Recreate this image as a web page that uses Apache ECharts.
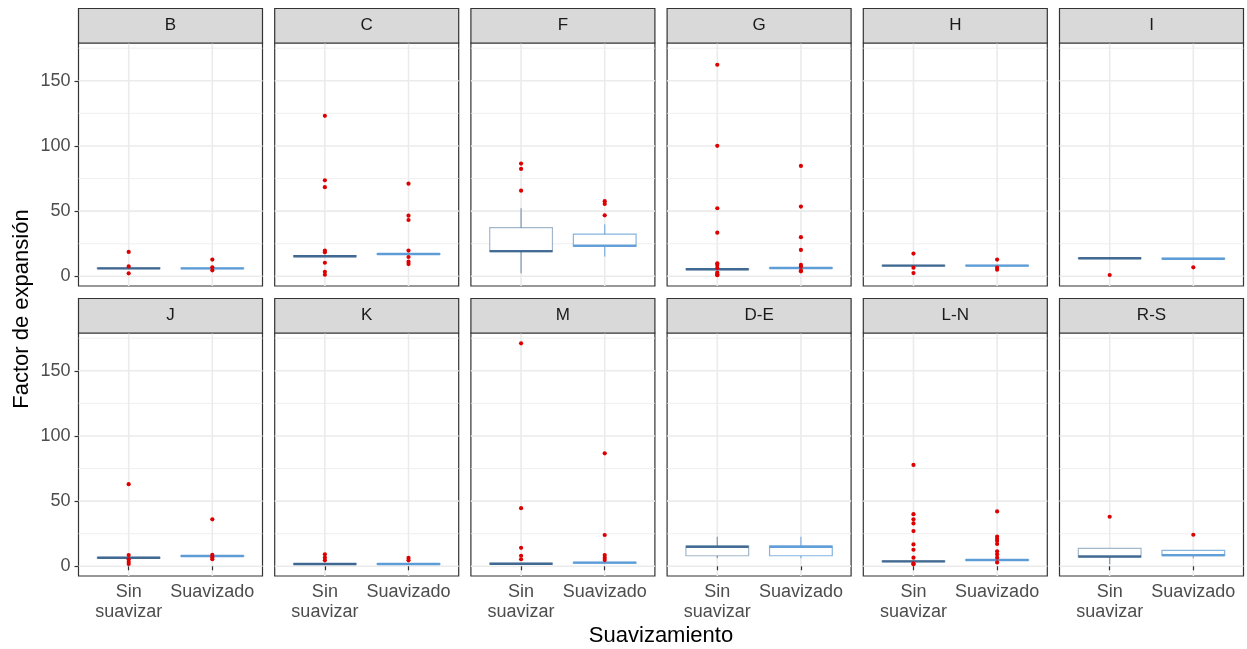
<!DOCTYPE html>
<html>
<head>
<meta charset="utf-8">
<script src="https://cdn.jsdelivr.net/npm/echarts@6/dist/echarts.min.js"></script>
<style>html,body{margin:0;padding:0;background:#fff}#c{width:1247px;height:649px}</style>
</head>
<body>
<div id="c"></div>
<script>
// ---- data ----
const panels = ['B','C','F','G','H','I','J','K','M','D-E','L-N','R-S'];
const groups = ['Sin\nsuavizar','Suavizado'];
const yTicks = [0,50,100,150];
const gridMajor = [0,50,100,150];
const gridMinor = [25,75,125,175];
// [min, Q1, median, Q3, max]
const sinBox = [
  [5.6,5.9,6.1,6.4,6.8],
  [14.8,15.1,15.4,15.8,16.2],
  [2.3,18.9,19.3,37.3,52.2],
  [4.9,5.1,5.4,5.7,6.0],
  [7.8,8.0,8.2,8.4,8.6],
  [13.4,13.6,13.8,14.0,14.2],
  [6.1,6.3,6.6,6.9,7.1],
  [1.3,1.5,1.8,2.1,2.3],
  [1.5,1.7,2.0,2.3,2.5],
  [6.1,8.1,15.0,15.5,22.7],
  [3.3,3.5,3.8,4.1,4.3],
  [1.6,7.2,7.5,13.8,13.8]
];
const suaBox = [
  [5.7,5.9,6.1,6.3,6.6],
  [16.4,16.8,17.1,17.5,17.9],
  [15.1,23.0,23.5,32.3,39.9],
  [6.0,6.2,6.4,6.7,7.0],
  [7.8,8.0,8.2,8.4,8.6],
  [13.1,13.3,13.5,13.7,13.9],
  [7.4,7.6,7.9,8.2,8.4],
  [1.3,1.5,1.8,2.1,2.3],
  [2.3,2.5,2.8,3.1,3.3],
  [6.1,8.1,15.0,15.5,22.7],
  [4.3,4.5,4.8,5.1,5.3],
  [6.1,8.1,8.6,12.2,12.2]
];
const sinOut = [
  [18.7,7.6,2.3],
  [123.1,73.7,68.4,19.7,18.4,10.4,3.5,1.2],
  [86.5,82.4,65.7],
  [162.3,100.1,52.2,33.5,10.0,8.7,6.4,2.8,1.5,0.8],
  [17.4,6.6,2.5],
  [1.0],
  [63.0,8.6,5.4,3.5,1.8],
  [9.2,6.6,4.6],
  [171.1,44.6,14.2,8.1,5.4],
  [],
  [77.8,40.0,36.0,32.9,27.0,16.8,12.7,6.6,2.3,1.5],
  [38.0]
];
const suaOut = [
  [12.8,6.9,4.6],
  [71.1,46.5,43.2,19.7,14.8,11.2,9.4],
  [57.6,55.5,46.8],
  [84.7,53.5,30.0,20.2,8.7,7.4,4.3,3.8],
  [12.8,6.6,5.1],
  [6.9],
  [36.0,8.8,7.0,5.4],
  [6.4,4.6],
  [86.7,24.0,8.6,6.6,4.8],
  [],
  [42.1,22.7,20.9,19.4,17.1,11.5,9.2,6.6,3.0],
  [24.2]
];

// ---- styles / layout ----
const FONT = '"Liberation Sans", Arial, sans-serif';
const lineCol = ['rgba(52,95,140,0.9)', 'rgba(91,155,213,0.95)'];
const boxCol = ['rgba(52,95,140,0.45)', 'rgba(91,155,213,0.75)'];
const whiskCol = ['rgba(52,95,140,0.55)', 'rgba(91,155,213,0.7)'];
const HALF_BOX = 0.375;
const PANEL_W = 184, PANEL_H = 243, STEP = 196.2, LEFT0 = 78.5;
const ROW_TOP = [43, 333], STRIP_H = 34.5;

const grids = [], xAxes = [], yAxes = [], series = [], graphics = [];

panels.forEach((name, i) => {
  const r = Math.floor(i / 6), c = i % 6;
  const left = LEFT0 + c * STEP, top = ROW_TOP[r];
  grids.push({left, top, width: PANEL_W, height: PANEL_H, show: true,
    backgroundColor: '#fff', borderColor: '#333333', borderWidth: 1.2});
  xAxes.push({gridIndex: i, type: 'value', min: 0.4, max: 2.6,
    splitLine: {show: false}, axisLine: {show: false},
    axisTick: {show: r === 1, customValues: [1, 2], length: 4, lineStyle: {color: '#333', width: 1.2}},
    axisLabel: {show: r === 1, customValues: [1, 2], margin: 6, color: '#4d4d4d',
      fontSize: 18, lineHeight: 20, fontFamily: FONT,
      formatter: v => Math.abs(v - 1) < 1e-6 ? groups[0] : (Math.abs(v - 2) < 1e-6 ? groups[1] : '')}
  });
  yAxes.push({gridIndex: i, type: 'value', min: -7.45, max: 179,
    splitLine: {show: false}, axisLine: {show: false},
    axisTick: {show: c === 0, customValues: yTicks, length: 4, lineStyle: {color: '#333', width: 1.2}},
    axisLabel: {show: c === 0, customValues: yTicks, margin: 8, color: '#4d4d4d', fontSize: 18, fontFamily: FONT}
  });

  // grid lines
  const gl = gridMajor.map(v => ['h', v, 1.6]).concat(gridMinor.map(v => ['h', v, 0.8]))
    .concat([['v', 1, 1.6], ['v', 2, 1.6]]);
  series.push({
    type: 'custom', xAxisIndex: i, yAxisIndex: i, z: 0, silent: true,
    data: gl.map(d => ({value: [d[0] === 'v' ? d[1] : 1, d[0] === 'h' ? d[1] : 0]})),
    renderItem: (params, api) => {
      const d = gl[params.dataIndex];
      const cs = params.coordSys;
      let shape;
      if (d[0] === 'h') {
        const y = api.coord([1, d[1]])[1];
        shape = {x1: cs.x, y1: y, x2: cs.x + cs.width, y2: y};
      } else {
        const x = api.coord([d[1], 0])[0];
        shape = {x1: x, y1: cs.y, x2: x, y2: cs.y + cs.height};
      }
      return {type: 'line', shape, style: {stroke: '#ebebeb', lineWidth: d[2]}};
    }
  });

  // boxplots (ggplot style: no whisker caps, thick median)
  const boxData = [[1].concat(sinBox[i]), [2].concat(suaBox[i])];
  series.push({
    type: 'custom', xAxisIndex: i, yAxisIndex: i, z: 2, silent: true,
    data: boxData,
    renderItem: (params, api) => {
      const k = params.dataIndex;
      const x = api.value(0), mn = api.value(1), q1 = api.value(2), md = api.value(3),
            q3 = api.value(4), mx = api.value(5);
      const a = api.coord([x - HALF_BOX, q3]), b = api.coord([x + HALF_BOX, q1]);
      const cx = api.coord([x, 0])[0];
      const yMin = api.coord([x, mn])[1], yMax = api.coord([x, mx])[1];
      const m1 = api.coord([x - HALF_BOX, md]), m2 = api.coord([x + HALF_BOX, md]);
      return {type: 'group', children: [
        {type: 'line', shape: {x1: cx, y1: a[1], x2: cx, y2: yMax}, style: {stroke: whiskCol[k], lineWidth: 1.3}},
        {type: 'line', shape: {x1: cx, y1: b[1], x2: cx, y2: yMin}, style: {stroke: whiskCol[k], lineWidth: 1.3}},
        {type: 'rect', shape: {x: a[0], y: a[1], width: b[0] - a[0], height: b[1] - a[1]},
          style: {fill: '#fff', stroke: boxCol[k], lineWidth: 1.2}},
        {type: 'line', shape: {x1: m1[0], y1: m1[1], x2: m2[0], y2: m2[1]},
          style: {stroke: lineCol[k], lineWidth: 2.4}}
      ]};
    }
  });

  // outliers
  series.push({
    type: 'scatter', xAxisIndex: i, yAxisIndex: i, z: 4, symbolSize: 4.2,
    itemStyle: {color: '#dd0000', opacity: 1},
    data: sinOut[i].map(v => [1, v]).concat(suaOut[i].map(v => [2, v]))
  });

  // strip
  graphics.push({type: 'rect', shape: {x: left, y: top - STRIP_H, width: PANEL_W, height: STRIP_H},
    style: {fill: '#d9d9d9', stroke: '#333333', lineWidth: 1.2}, z: 10});
  graphics.push({type: 'text', x: left + PANEL_W / 2, y: top - STRIP_H / 2,
    style: {text: name, fill: '#1a1a1a', font: '17px ' + FONT, textAlign: 'center', textVerticalAlign: 'middle'}, z: 11});
});

graphics.push({type: 'text', x: 22, y: 309, rotation: Math.PI / 2,
  style: {text: 'Factor de expansión', fill: '#000', font: '22px ' + FONT, textAlign: 'center', textVerticalAlign: 'middle'}});
graphics.push({type: 'text', x: 661, y: 636,
  style: {text: 'Suavizamiento', fill: '#000', font: '22px ' + FONT, textAlign: 'center', textVerticalAlign: 'middle'}});

const chart = echarts.init(document.getElementById('c'), null, {renderer: 'canvas'});
chart.setOption({
  animation: false,
  backgroundColor: '#fff',
  grid: grids, xAxis: xAxes, yAxis: yAxes, series: series, graphic: graphics
});
</script>
</body>
</html>
